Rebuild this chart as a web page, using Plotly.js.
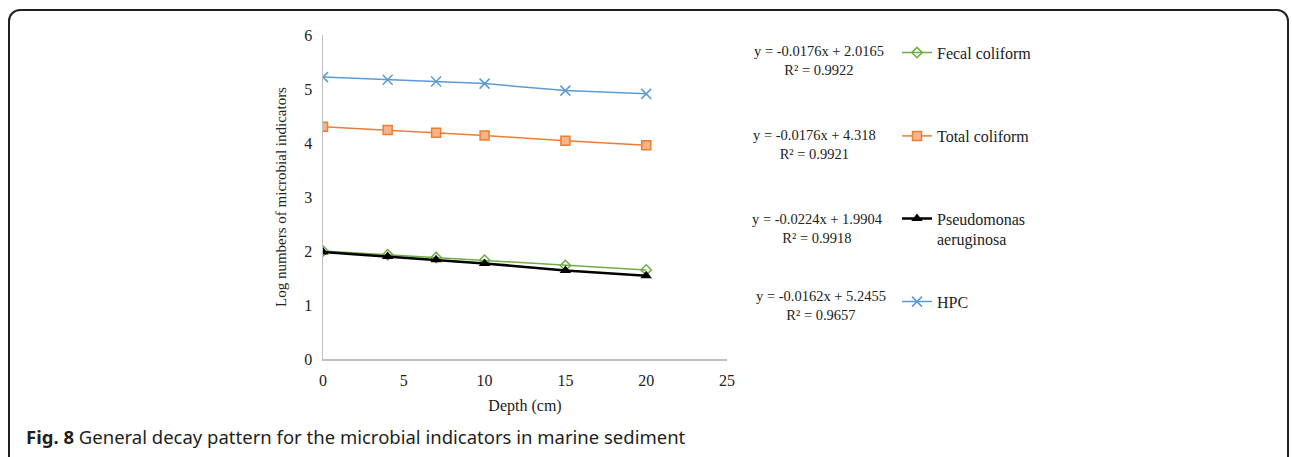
<!DOCTYPE html>
<html>
<head>
<meta charset="utf-8">
<script src="https://cdn.plot.ly/plotly-3.0.1.min.js"></script>
<style>
  html, body { margin: 0; padding: 0; background: #fff; }
  #chart { width: 1292px; height: 457px; }
  #frame { position: absolute; left: 8px; top: 9px; width: 1281px; height: 520px;
           border: 2px solid #231f20; border-radius: 12px; pointer-events: none; box-sizing: border-box; }
</style>
</head>
<body>
<div id="chart"></div>
<div id="frame"></div>
<script>
// Depth (cm)
const depth = [0, 4, 7, 10, 15, 20];
// Log numbers of microbial indicators
const fecalColiform = [2.00, 1.93, 1.88, 1.83, 1.73, 1.65];
const totalColiform = [4.30, 4.24, 4.19, 4.14, 4.04, 3.96];
const pseudomonas   = [1.98, 1.90, 1.84, 1.77, 1.64, 1.54];
const hpc           = [5.22, 5.17, 5.14, 5.10, 4.97, 4.91];

const seriesNames = ["Fecal coliform", "Total coliform", "Pseudomonas<br>aeruginosa", "HPC"];
const equations = [
  "y = -0.0176x + 2.0165<br>R² = 0.9922",
  "y = -0.0176x + 4.318<br>R² = 0.9921",
  "y = -0.0224x + 1.9904<br>R² = 0.9918",
  "y = -0.0162x + 5.2455<br>R² = 0.9657"
];
const xTicks = [0, 5, 10, 15, 20, 25];
const yTicks = [0, 1, 2, 3, 4, 5, 6];

// layout helpers (pixel -> paper)
const L = 323, R = 727, T = 35, B = 359, W = 1292, H = 457;
const px2x = p => (p - L) / (R - L);
const px2y = p => (B - p) / (B - T);

const serif = "Liberation Serif, Times New Roman, serif";
const txt = "#222";

const traces = [
  { x: depth, y: fecalColiform, name: seriesNames[0], mode: "lines+markers", legend: "legend",
    line: { color: "#70ad47", width: 1.5 },
    marker: { symbol: "diamond-open", size: 8, color: "#70ad47", line: { width: 1.5 } } },
  { x: depth, y: totalColiform, name: seriesNames[1], mode: "lines+markers", legend: "legend2",
    line: { color: "#ed7d31", width: 1.5 },
    marker: { symbol: "square", size: 9, color: "#f6b48c", line: { color: "#ed7d31", width: 1.5 } } },
  { x: depth, y: pseudomonas, name: seriesNames[2], mode: "lines+markers", legend: "legend3",
    line: { color: "#000000", width: 2.5 },
    marker: { symbol: "triangle-up", size: 10, color: "#000000" } },
  { x: depth, y: hpc, name: seriesNames[3], mode: "lines+markers", legend: "legend4",
    line: { color: "#5b9bd5", width: 1.5 },
    marker: { symbol: "x-thin-open", size: 10, color: "#5b9bd5", line: { color: "#5b9bd5", width: 1.5 } } }
];

const legendBase = { xanchor: "left", yanchor: "middle", bgcolor: "rgba(0,0,0,0)",
  font: { family: serif, size: 16, color: txt }, itemwidth: 30, valign: "top" };
const legendX = px2x(897);
const legendCenters = [52.7, 136, 229, 301.7];

const eqCenters = [[819, 60], [814, 144], [817, 228], [821, 305]];
const annotations = equations.map((t, i) => ({
  text: t, xref: "paper", yref: "paper", x: px2x(eqCenters[i][0]), y: px2y(eqCenters[i][1]),
  xanchor: "center", yanchor: "middle", align: "center", showarrow: false,
  font: { family: serif, size: 14.5, color: txt }
}));
annotations.push({
  text: "<b>Fig. 8</b> General decay pattern for the microbial indicators in marine sediment",
  xref: "paper", yref: "paper", x: px2x(24), y: px2y(436), xanchor: "left", yanchor: "middle",
  showarrow: false, font: { family: "Noto Sans, Open Sans, sans-serif", size: 18.5, color: "#231f20" }
});

const layout = {
  width: W, height: H,
  margin: { l: L, r: W - R, t: T, b: H - B },
  paper_bgcolor: "#fff", plot_bgcolor: "#fff",
  showlegend: true,
  legend:  Object.assign({}, legendBase, { x: legendX, y: px2y(legendCenters[0]) }),
  legend2: Object.assign({}, legendBase, { x: legendX, y: px2y(legendCenters[1]) }),
  legend3: Object.assign({}, legendBase, { x: legendX, y: px2y(legendCenters[2]) }),
  legend4: Object.assign({}, legendBase, { x: legendX, y: px2y(legendCenters[3]) }),
  xaxis: {
    range: [0, 25], tickvals: xTicks, ticktext: xTicks.map(String),
    showline: true, linecolor: "#bfbfbf", linewidth: 1.5, showgrid: false, zeroline: false,
    ticks: "", ticklabelstandoff: 6, tickfont: { family: serif, size: 16, color: txt },
    title: { text: "Depth (cm)", font: { family: serif, size: 16, color: txt }, standoff: 12 }
  },
  yaxis: {
    range: [0, 6], tickvals: yTicks, ticktext: yTicks.map(String),
    showline: true, linecolor: "#bfbfbf", linewidth: 1.5, showgrid: false, zeroline: false,
    ticks: "", ticklabelstandoff: 6, tickfont: { family: serif, size: 16, color: txt },
    title: { text: "Log numbers of microbial indicators", font: { family: serif, size: 15, color: txt }, standoff: 14 }
  },
  annotations: annotations
};

Plotly.newPlot("chart", traces, layout, { displayModeBar: false, staticPlot: true });
</script>
</body>
</html>
